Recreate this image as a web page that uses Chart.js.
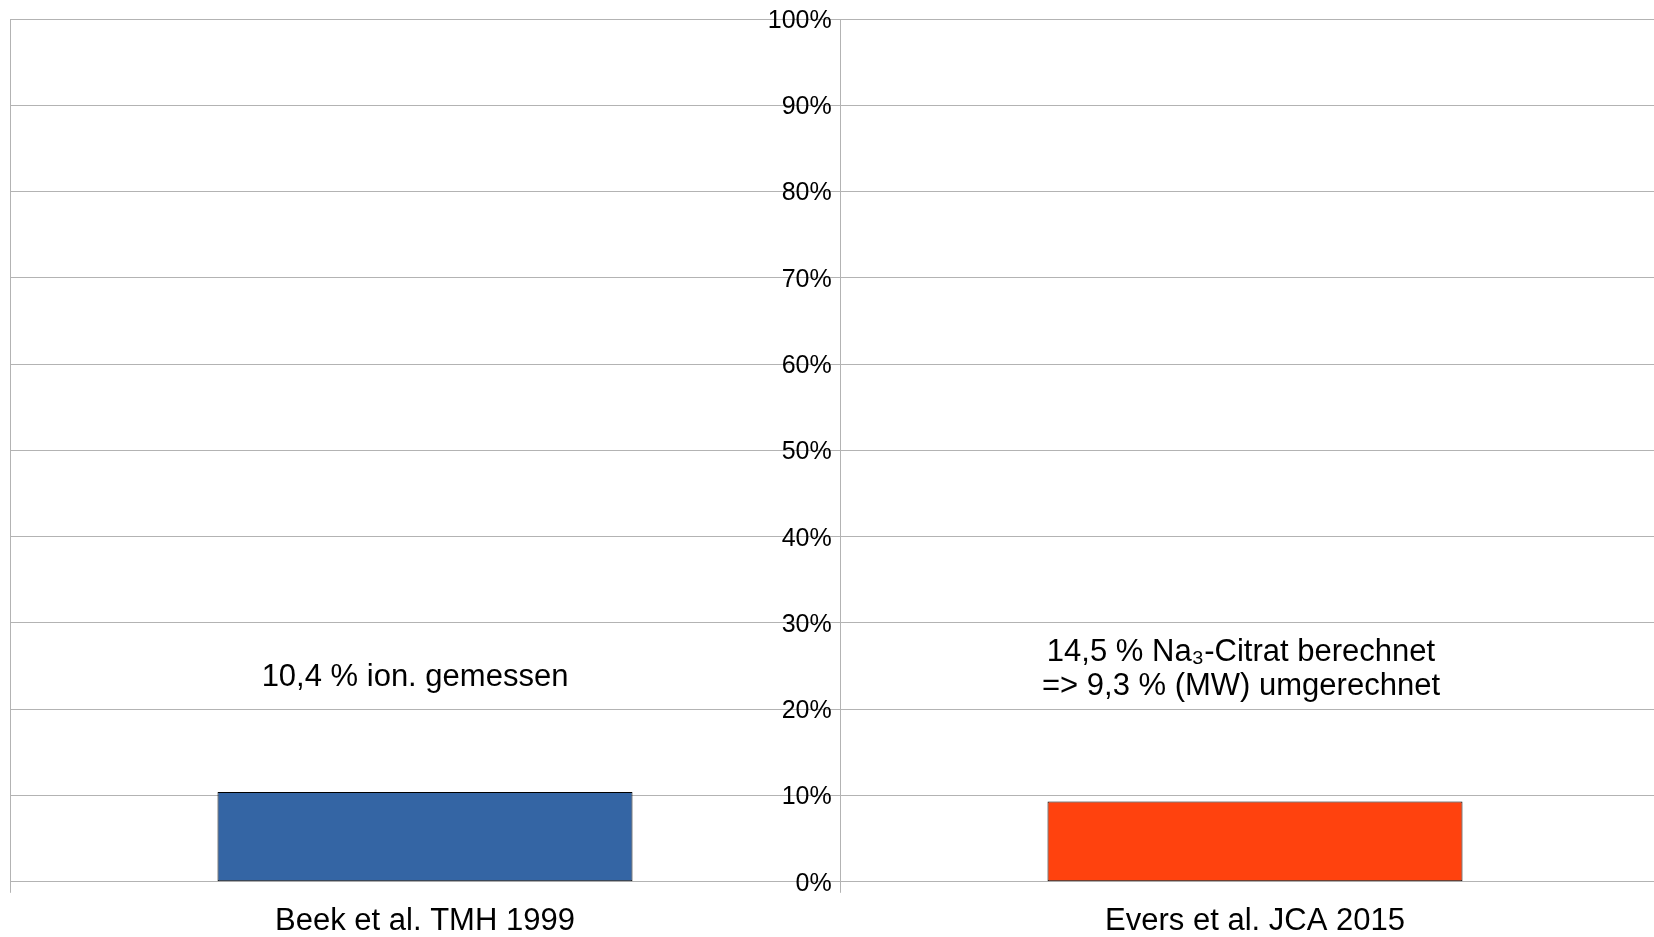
<!DOCTYPE html>
<html lang="de">
<head>
<meta charset="UTF-8">
<title>Citrat-Anteil</title>
<script src="https://cdn.jsdelivr.net/npm/chart.js@4.4.0/dist/chart.umd.min.js"></script>
<style>
  html, body { margin: 0; padding: 0; background: #fff; overflow: hidden; }
  /* plot runs off the right edge in the original, so the box is wider than the window */
  #wrap { width: 1680px; height: 937px; position: relative; }
</style>
</head>
<body>
<div id="wrap"><canvas id="chart"></canvas></div>
<script>
// data
const categories = ['Beek et al. TMH 1999', 'Evers et al. JCA 2015'];
const values = [10.4, 9.3];
const barColors = ['#3465a4', '#ff420e'];
const notes = [
  ['10,4 % ion. gemessen'],
  ['14,5 % Na₃-Citrat berechnet', '=> 9,3 % (MW) umgerechnet']
];

Chart.defaults.font.family = '"Liberation Sans", Arial, sans-serif';
Chart.defaults.color = '#000';

const gridGray = '#b3b3b3';

// text boxes above the bars
const notePlugin = {
  id: 'notes',
  afterDatasetsDraw(chart) {
    const { ctx, scales: { x, y } } = chart;
    const level = [23.7, 24.6];   // in % of the y axis
    const shift = [-10, -14];
    const lineH = 33.5;
    ctx.save();
    ctx.font = '31px "Liberation Sans", Arial, sans-serif';
    ctx.fillStyle = '#000';
    ctx.textAlign = 'center';
    ctx.textBaseline = 'middle';
    notes.forEach((lines, i) => {
      const cx = x.getPixelForValue(i) + shift[i];
      const cy = y.getPixelForValue(level[i]) - (lines.length - 1) * lineH / 2;
      lines.forEach((t, j) => ctx.fillText(t, cx, cy + j * lineH));
    });
    ctx.restore();
  }
};

new Chart(document.getElementById('chart'), {
  type: 'bar',
  data: {
    labels: categories,
    datasets: [{
      data: values,
      backgroundColor: barColors,
      borderColor: '#000',
      borderWidth: 1,
      borderSkipped: false,
      barPercentage: 0.5,
      categoryPercentage: 1.0
    }]
  },
  options: {
    responsive: true,
    maintainAspectRatio: false,
    animation: false,
    // negative bottom: chart.js reserves twice the tick padding under the x axis
    layout: { padding: { left: 10, right: 10, top: 19, bottom: -13 } },
    plugins: {
      legend: { display: false },
      tooltip: { enabled: false }
    },
    scales: {
      x: {
        offset: true,
        grid: { offset: true, color: gridGray, tickLength: 11 },
        border: { color: gridGray },
        ticks: { font: { size: 31 }, padding: 10, maxRotation: 0 }
      },
      y: {
        // value axis sits between the two categories; the vertical line there is the x grid line
        position: { x: 0.49 },
        min: 0,
        max: 100,
        grid: { color: gridGray, drawTicks: false },
        border: { display: false },
        ticks: {
          stepSize: 10,
          padding: 0,
          labelOffset: 2,
          font: { size: 25 },
          callback: v => v + '%'
        }
      }
    }
  },
  plugins: [notePlugin]
});
</script>
</body>
</html>
